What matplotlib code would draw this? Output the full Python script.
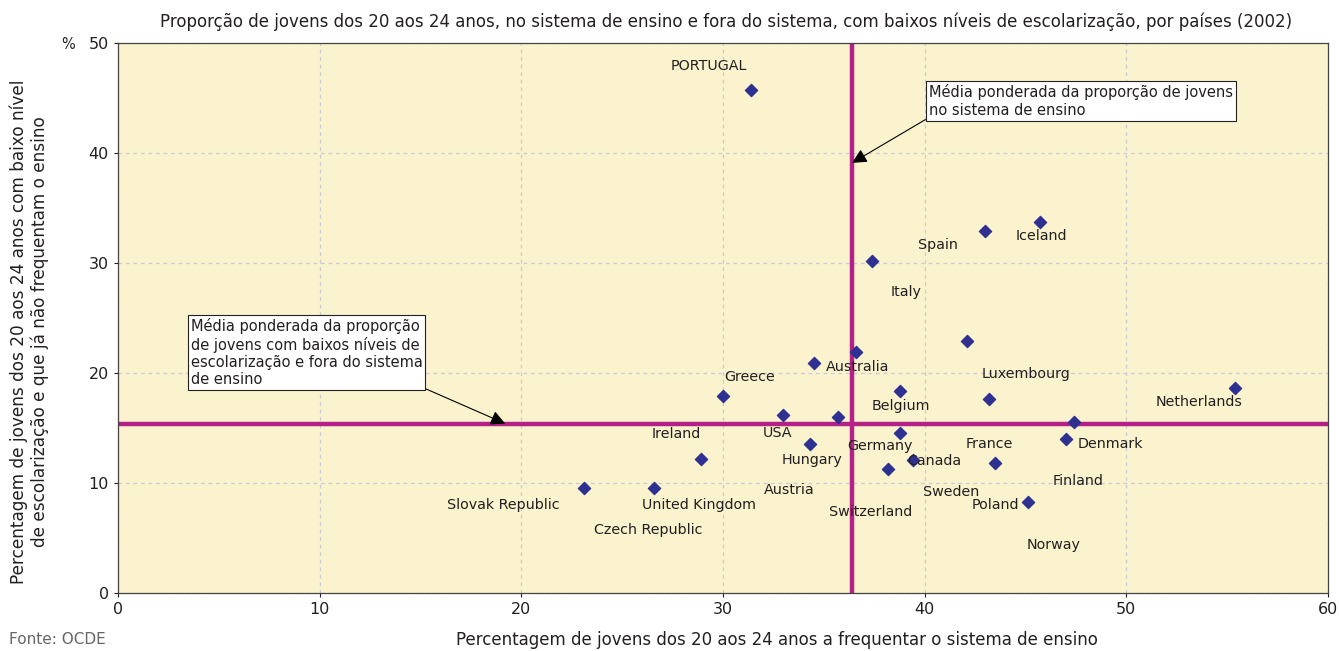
import matplotlib
matplotlib.use("Agg")
import matplotlib.pyplot as plt

# ---- data ----
countries = ["Portugal", "Iceland", "Spain", "Italy", "Luxembourg", "Australia",
             "Greece", "Belgium", "France", "Netherlands", "USA", "Austria",
             "Hungary", "Germany", "Switzerland", "Finland", "Denmark", "Ireland",
             "Canada", "Sweden", "Czech Republic", "Slovak Republic",
             "United Kingdom", "Poland"]
in_education = [31.4, 45.7, 43.0, 37.4, 42.1, 36.6, 30.0, 38.8, 43.2, 55.4, 33.0, 34.5,
                34.3, 38.8, 35.7, 47.4, 47.0, 28.9, 39.4, 43.5, 38.2, 23.1, 26.6, 45.1]
low_attain_out = [45.7, 33.7, 32.9, 30.2, 22.9, 21.9, 17.9, 18.4, 17.6, 18.6, 16.2, 20.9,
                  13.5, 14.5, 16.0, 15.5, 14.0, 12.2, 12.1, 11.8, 11.3, 9.5, 9.5, 8.3]
mean_in_education = 36.4
mean_low_attain = 15.4

label_names = ["PORTUGAL", "Iceland", "Spain", "Italy", "Luxembourg", "Australia", "Greece",
               "Belgium", "Netherlands", "USA", "Ireland", "Germany", "France", "Denmark",
               "Hungary", "Canada", "Austria", "Sweden", "Finland", "Slovak Republic",
               "United Kingdom", "Poland", "Czech Republic", "Switzerland", "Norway"]
label_x = [29.3, 45.8, 40.65, 39.1, 45.0, 36.65, 31.3, 38.8, 53.6, 32.7, 27.7, 37.8, 43.2,
           49.2, 34.4, 40.5, 33.3, 41.3, 47.6, 19.1, 28.8, 43.5, 26.3, 37.3, 46.4]
label_y = [47.9, 32.45, 31.6, 27.4, 19.9, 20.55, 19.6, 17.0, 17.4, 14.55, 14.45, 13.4, 13.55,
           13.55, 12.1, 12.0, 9.4, 9.2, 10.2, 8.0, 8.0, 8.0, 5.75, 7.4, 4.4]

title = "Proporção de jovens dos 20 aos 24 anos, no sistema de ensino e fora do sistema, com baixos níveis de escolarização, por países (2002)"
xlabel = "Percentagem de jovens dos 20 aos 24 anos a frequentar o sistema de ensino"
ylabel = "Percentagem de jovens dos 20 aos 24 anos com baixo nível\nde escolarização e que já não frequentam o ensino"
note_v = "Média ponderada da proporção de jovens\nno sistema de ensino"
note_h = "Média ponderada da proporção\nde jovens com baixos níveis de\nescolarização e fora do sistema\nde ensino"

plt.rcParams['font.family'] = ['DejaVu Sans']
text_col = "#231f20"
fig = plt.figure(figsize=(13.39, 6.51), dpi=100)
ax = fig.add_axes([0.0881, 0.0891, 0.9037, 0.8449])
ax.set_facecolor("#faf3cd")
ax.set_xlim(0, 60)
ax.set_ylim(0, 50)
ax.set_xticks(range(0, 61, 10))
ax.set_yticks(range(0, 51, 10))
ax.grid(True, linestyle=(0, (3, 3)), color="#c9cbd6", linewidth=0.9)
ax.set_axisbelow(True)
for s in ax.spines.values():
    s.set_color("#444444")
    s.set_linewidth(0.9)
ax.tick_params(labelsize=11.5, colors=text_col, length=3)

ax.axvline(mean_in_education, color="#b51f8a", lw=3.2, zorder=2)
ax.axhline(mean_low_attain, color="#b51f8a", lw=3.2, zorder=2)

ax.scatter(in_education, low_attain_out, marker="D", s=38, color="#2e3192", zorder=4)

for n, lx, ly in zip(label_names, label_x, label_y):
    ax.text(lx, ly, n, ha="center", va="center", fontsize=10.3, color=text_col, zorder=5)

ax.annotate(note_v, xy=(mean_in_education, 39.1), xytext=(40.2, 46.3), textcoords="data",
            ha="left", va="top", fontsize=10.5, color=text_col, linespacing=1.25,
            bbox=dict(boxstyle="square,pad=0.2", fc="white", ec="#222222", lw=0.8),
            arrowprops=dict(arrowstyle="-|>", color="black", lw=0.8, mutation_scale=22,
                            shrinkA=0, shrinkB=0, relpos=(0, 0)), zorder=6)
ax.annotate(note_h, xy=(19.2, mean_low_attain), xytext=(3.6, 25.0), textcoords="data",
            ha="left", va="top", fontsize=10.5, color=text_col, linespacing=1.2,
            bbox=dict(boxstyle="square,pad=0.2", fc="white", ec="#222222", lw=0.8),
            arrowprops=dict(arrowstyle="-|>", color="black", lw=0.8, mutation_scale=22,
                            shrinkA=0, shrinkB=0, relpos=(1, 0)), zorder=6)

fig.text(0.542, 0.967, title, ha="center", va="center", fontsize=12, color=text_col)
fig.text(0.58, 0.017, xlabel, ha="center", va="center", fontsize=12, color=text_col)
fig.text(0.022, 0.49, ylabel, ha="center", va="center", rotation=90, fontsize=12.2,
         color=text_col, linespacing=1.15)
fig.text(0.051, 0.932, "%", ha="center", va="center", fontsize=10.5, color=text_col)
fig.text(0.007, 0.017, "Fonte: OCDE", ha="left", va="center", fontsize=11, color="#666666")

fig.savefig("out.png", dpi=100)
